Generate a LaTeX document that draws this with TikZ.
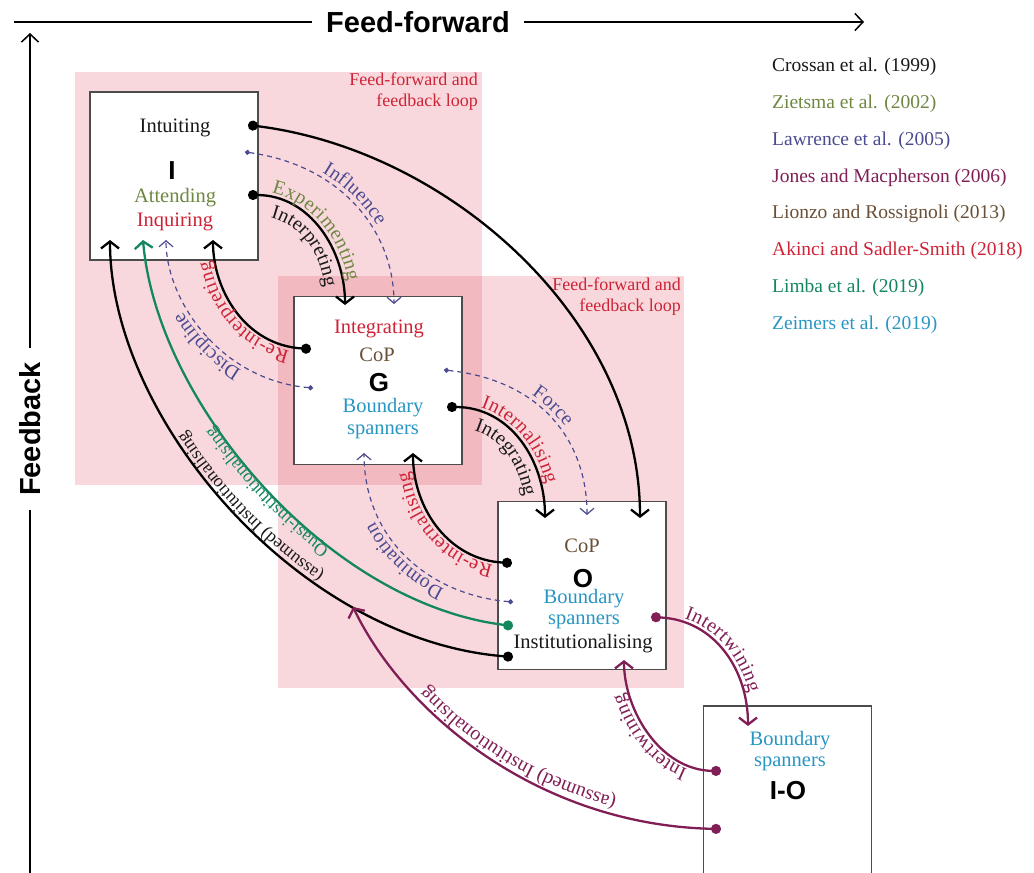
\documentclass[tikz,border=0pt]{standalone}
\usepackage{fontspec}
\setmainfont{Liberation Serif}
\newfontfamily\headfont{Liberation Sans}
\usetikzlibrary{arrows.meta,decorations.text}

\definecolor{crossan}{RGB}{25,25,25}
\definecolor{zietsma}{RGB}{110,135,65}
\definecolor{lawrence}{RGB}{75,75,145}
\definecolor{jones}{RGB}{128,30,85}
\definecolor{lionzo}{RGB}{105,80,55}
\definecolor{akinci}{RGB}{205,35,55}
\definecolor{limba}{RGB}{20,135,95}
\definecolor{zeimers}{RGB}{40,150,195}
\definecolor{loopred}{RGB}{220,60,80}

\newcommand\boxfont{\fontsize{20.5}{24}\selectfont}
\newcommand\tagfont{\fontsize{20}{24}\selectfont}
\newcommand\smalltagfont{\fontsize{18}{22}\selectfont}
\newcommand\bigfont{\headfont\bfseries\fontsize{26}{30}\selectfont}

\tikzset{tag/.style n args={3}{postaction={decorate,decoration={text along path,text align=center,raise=#1,text color=#2,text={|\tagfont|#3}}}}}

\begin{document}
\begin{tikzpicture}[x=1pt,y=-1pt]
    \tikzstyle{stage}=[draw=black!70,line width=1.2pt,fill=white,minimum width=168pt,minimum height=168pt,inner sep=0pt]
    \tikzstyle{word}=[inner sep=0pt,font=\boxfont]
    \tikzstyle{letter}=[inner sep=0pt,font=\bigfont]
    \tikzstyle{loop}=[fill=loopred,opacity=0.2]
    \tikzstyle{loopnote}=[inner sep=0pt,align=right,text=akinci,font=\fontsize{18}{21}\selectfont]
    \tikzstyle{legend}=[inner sep=0pt,anchor=west,font=\fontsize{19.5}{22}\selectfont]
    \tikzstyle{axis}=[line width=1.5pt,-{Straight Barb[length=8pt,width=17pt]}]
    \tikzstyle{axislabel}=[fill=white,inner xsep=14pt,inner ysep=2pt,font=\headfont\bfseries\fontsize{29}{32}\selectfont]
    \tikzstyle{flow}=[line width=2.3pt,{Circle[length=10pt]}-{Straight Barb[length=7pt,width=18pt]}]
    \tikzstyle{weak}=[line width=1.2pt,lawrence,dash pattern=on 5pt off 4pt,{Circle[length=5pt]}-{Straight Barb[length=6pt,width=14pt]}]

    \useasboundingbox (0,0) rectangle (1034,873);

    % axes
    \coordinate (ax-left) at (14,22);
    \coordinate (ax-right) at (864,22);
    \coordinate (ax-bottom) at (30,880);
    \coordinate (ax-top) at (30,33);
    \draw[axis] (ax-left) -- (ax-right);
    \draw[axis] (ax-bottom) -- (ax-top);
    \node[axislabel] (feedfwd) at (418,22) {Feed-forward};
    \node[axislabel,rotate=90] (feedback) at (30,429) {Feedback};

    % loops
    \fill[loop] (75,72) rectangle (482,485);
    \fill[loop] (278,276) rectangle (684,688);
    \node[loopnote,anchor=north east] (loop-A) at (478,73) {Feed-forward and\\feedback loop};
    \node[loopnote,anchor=north east] (loop-B) at (681,278) {Feed-forward and\\feedback loop};

    % levels
    \foreach \name/\x/\y in {I/174/176, G/378/380.5, O/582/585.5}
        \node[stage] (B-\name) at (\x,\y) {};
    \node[stage,minimum height=172pt] (B-IO) at (787.5,792) {};

    \node[word,text=crossan] (I-1) at (175,128) {Intuiting};
    \node[letter] (I-2) at (172,171) {I};
    \node[word,text=zietsma] (I-3) at (175,198) {Attending};
    \node[word,text=akinci] (I-4) at (175,222) {Inquiring};

    \node[word,text=akinci] (G-1) at (379,329) {Integrating};
    \node[word,text=lionzo] (G-2) at (377,355) {CoP};
    \node[letter] (G-3) at (379,383) {G};
    \node[word,text=zeimers] (G-4) at (383,408) {Boundary};
    \node[word,text=zeimers] (G-5) at (383,432) {spanners};

    \node[word,text=lionzo] (O-1) at (582,546) {CoP};
    \node[letter] (O-2) at (583,579) {O};
    \node[word,text=zeimers] (O-3) at (584,599) {Boundary};
    \node[word,text=zeimers] (O-4) at (584,622) {spanners};
    \node[word,text=crossan] (O-5) at (583,644) {Institutionalising};

    \node[word,text=zeimers] (IO-1) at (790,741) {Boundary};
    \node[word,text=zeimers] (IO-2) at (790,764) {spanners};
    \node[letter] (IO-3) at (788,791) {I-O};

    % legend
    \foreach \col/\txt [count=\k from 0] in {crossan/{Crossan et al. (1999)}, zietsma/{Zietsma et al. (2002)},
            lawrence/{Lawrence et al. (2005)}, jones/{Jones and Macpherson (2006)},
            lionzo/{Lionzo and Rossignoli (2013)}, akinci/{Akinci and Sadler-Smith (2018)},
            limba/{Limba et al. (2019)}, zeimers/{Zeimers et al. (2019)}}
        \node[legend,text=\col] (ref-\k) at (772,{67+36.8*\k}) {\txt};

    % connector ends
    \coordinate (I-a) at (248,125);
    \coordinate (I-b) at (245,152);
    \coordinate (I-c) at (248,195);
    \coordinate (I-in1) at (110,240);
    \coordinate (I-in2) at (143,240);
    \coordinate (I-in3) at (166,240);
    \coordinate (I-in4) at (213,240);
    \coordinate (G-a) at (311,349);
    \coordinate (G-b) at (313,388);
    \coordinate (G-c) at (444,370);
    \coordinate (G-d) at (447,407);
    \coordinate (G-in1) at (345,305);
    \coordinate (G-in2) at (394,304);
    \coordinate (G-in3) at (364,453);
    \coordinate (G-in4) at (413,453);
    \coordinate (O-a) at (512,563);
    \coordinate (O-b) at (513,602);
    \coordinate (O-c) at (513,626);
    \coordinate (O-d) at (513,657);
    \coordinate (O-e) at (651,617);
    \coordinate (O-in1) at (545,518);
    \coordinate (O-in2) at (587,515);
    \coordinate (O-in3) at (640,518);
    \coordinate (O-in4) at (624,660);
    \coordinate (IO-a) at (721,771);
    \coordinate (IO-b) at (721,829);
    \coordinate (IO-in) at (748,726);
    \coordinate (on-assumed) at (353,607);

    % feed-forward
    \draw[flow] (I-a) .. controls (450,150) and (640,320) .. (O-in3);
    \draw[weak,tag={5pt}{lawrence}{Influence}] (I-b) .. controls (340,165) and (394,230) .. (G-in2);
    \draw[flow,tag={5pt}{zietsma}{Experimenting}] (I-c) .. controls (310,195) and (345,250) .. (G-in1);
    \path[tag={0pt}{crossan}{Interpreting}] (252,215) .. controls (296,215) and (326,250) .. (326,306);
    \draw[weak,tag={5pt}{lawrence}{Force}] (G-c) .. controls (540,380) and (587,440) .. (O-in2);
    \draw[flow,tag={5pt}{akinci}{Internalising}] (G-d) .. controls (510,407) and (545,460) .. (O-in1);
    \path[tag={0pt}{crossan}{Integrating}] (451,427) .. controls (496,427) and (526,462) .. (526,520);
    \draw[flow,jones,tag={5pt}{jones}{Intertwining}] (O-e) .. controls (715,620) and (748,670) .. (IO-in);

    % feedback
    \draw[flow,tag={5pt}{akinci}{Re-interpreting}] (G-a) .. controls (245,345) and (213,290) .. (I-in4);
    \draw[weak,tag={5pt}{lawrence}{Discipline}] (G-b) .. controls (220,380) and (166,300) .. (I-in3);
    \draw[flow,tag={5pt}{akinci}{Re-internalising}] (O-a) .. controls (450,560) and (413,510) .. (G-in4);
    \draw[weak,tag={5pt}{lawrence}{Domination}] (O-b) .. controls (430,595) and (364,540) .. (G-in3);
    \draw[flow,limba,tag={2.5pt}{limba}{|\smalltagfont|Quasi-institutionalising}] (O-c) .. controls (327,603) and (157,403) .. (I-in2);
    \draw[flow] (O-d) .. controls (300,640) and (110,420) .. (I-in1);
    \path[tag={0pt}{crossan}{|\smalltagfont|(assumed) Institutionalising}] (513,642) .. controls (304,625) and (125,420) .. (125,240);
    \draw[flow,jones,tag={5pt}{jones}{Intertwining}] (IO-a) .. controls (660,770) and (624,710) .. (O-in4);
    \draw[flow,jones] (IO-b) .. controls (540,825) and (405,715) .. (on-assumed);
    \path[tag={0pt}{jones}{(assumed) Institutionalising}] (721,812) .. controls (542,808) and (420,708) .. (368,600);
\end{tikzpicture}
\end{document}
